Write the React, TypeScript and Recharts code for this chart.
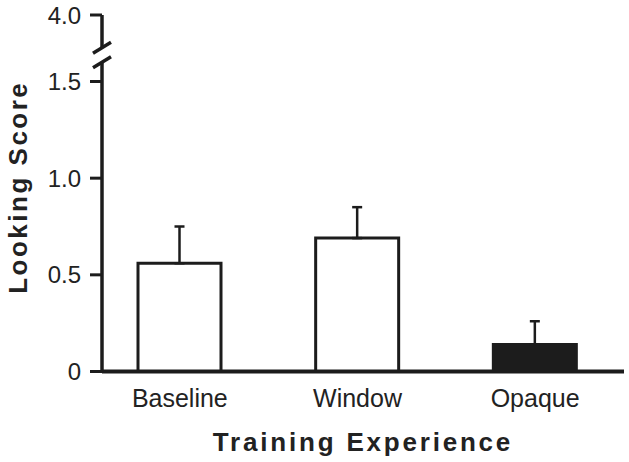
import { BarChart, Bar, XAxis, YAxis, ErrorBar, Cell, ReferenceArea, Label } from 'recharts';

const INK = '#1c1c1c';
const TEXT = '#222222';
const FONT = "'Liberation Sans', Arial, sans-serif";

// values
const categories = ['Baseline', 'Window', 'Opaque'];
const means = [0.56, 0.69, 0.14];
const errors = [0.19, 0.16, 0.12];
const fills = ['#ffffff', '#ffffff', INK];
const tickLabels = [0, 0.5, 1.0, 1.5, 4.0];

// broken y axis: 0..1.5 is linear, 4.0 gets parked at the top of the plot
const BREAK_FROM = 1.5;
const AXIS_TOP = 1.844;
const GAP_LOW = 1.6;
const GAP_HIGH = 1.674;

// categories start a little left of the y axis line
const X_PAD = -11;

const data = categories.map((name, i) => ({ name, mean: means[i], err: [0, errors[i]] }));
const axisTicks = tickLabels.map((v) => (v > BREAK_FROM ? AXIS_TOP : v));
const tickText = (v: number) => {
  const real = v === AXIS_TOP ? tickLabels[tickLabels.length - 1] : v;
  return real === 0 ? '0' : real.toFixed(1);
};

// one piece of the y axis line, with a slash at the broken end
// (reference areas start at the padded x range, so shift back onto the axis)
const axisPiece = (slashAt: 'top' | 'bottom') => (p: any) => {
  const x = p.x - X_PAD;
  const { y, height } = p;
  const ys = slashAt === 'top' ? y : y + height;
  return (
    <g stroke={INK} strokeWidth={3.5}>
      <line x1={x} y1={y} x2={x} y2={y + height} />
      <line x1={x - 9} y1={ys + 5.5} x2={x + 9} y2={ys - 5.5} />
    </g>
  );
};

export default function App() {
  return (
    <div style={{ position: 'absolute', left: 0, top: 0, background: '#fff' }}>
      <BarChart
        width={629}
        height={462}
        data={data}
        margin={{ top: 15, right: 5, bottom: 0, left: 0 }}
        style={{ fontFamily: FONT }}
      >
        <XAxis
          dataKey="name"
          padding={{ left: X_PAD, right: 0 }}
          axisLine={{ stroke: INK, strokeWidth: 4 }}
          tickLine={false}
          tickSize={0}
          tickMargin={18}
          height={90.5}
          tick={{ fontSize: 25, fill: TEXT, fontFamily: FONT }}
        >
          <Label
            content={({ viewBox }: any) => (
              <text
                x={viewBox.x + viewBox.width / 2}
                y={451}
                textAnchor="middle"
                fontSize={26}
                fontWeight="bold"
                letterSpacing={2.8}
                fill={TEXT}
                fontFamily={FONT}
              >
                Training Experience
              </text>
            )}
          />
        </XAxis>
        <YAxis
          type="number"
          domain={[0, AXIS_TOP]}
          ticks={axisTicks}
          tickFormatter={tickText}
          width={102}
          axisLine={false}
          tickLine={{ stroke: INK, strokeWidth: 3 }}
          tickSize={12}
          tickMargin={9}
          tick={{ fontSize: 24, fill: TEXT, fontFamily: FONT }}
        >
          <Label
            content={({ viewBox }: any) => {
              const cx = 27;
              const cy = viewBox.y + viewBox.height / 2 - 6;
              return (
                <text
                  x={cx}
                  y={cy}
                  transform={`rotate(-90 ${cx} ${cy})`}
                  textAnchor="middle"
                  fontSize={26}
                  fontWeight="bold"
                  letterSpacing={2.5}
                  fill={TEXT}
                  fontFamily={FONT}
                >
                  Looking Score
                </text>
              );
            }}
          />
        </YAxis>
        <ReferenceArea y1={0} y2={GAP_LOW} ifOverflow="visible" shape={axisPiece('top')} />
        <ReferenceArea y1={GAP_HIGH} y2={AXIS_TOP} ifOverflow="visible" shape={axisPiece('bottom')} />
        <Bar dataKey="mean" barSize={83} stroke={INK} strokeWidth={3} isAnimationActive={false}>
          {data.map((d, i) => (
            <Cell key={d.name} fill={fills[i]} />
          ))}
          <ErrorBar dataKey="err" width={5} stroke={INK} strokeWidth={2.5} direction="y" isAnimationActive={false} />
        </Bar>
      </BarChart>
    </div>
  );
}
